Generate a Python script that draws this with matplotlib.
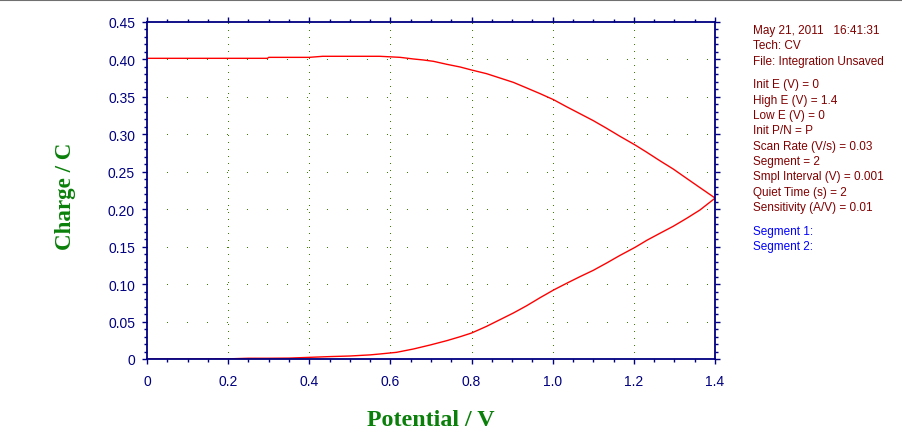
import numpy as np
import matplotlib
matplotlib.use('Agg')
import matplotlib.pyplot as plt
from matplotlib.ticker import MultipleLocator

# segment 1: forward scan 0 -> 1.4 V
fwd_E = [0, 0.1, 0.2, 0.25, 0.3, 0.35, 0.4, 0.45, 0.5, 0.55, 0.574, 0.615, 0.657,
         0.698, 0.739, 0.772, 0.800, 0.837, 0.870, 0.903, 0.936, 0.969, 1.002, 1.034,
         1.067, 1.100, 1.133, 1.166, 1.203, 1.232, 1.264, 1.297, 1.330, 1.363, 1.4]
fwd_Q = [0, 0, 0.0002, 0.001, 0.001, 0.0012, 0.0022, 0.0032, 0.0040, 0.0055, 0.0067,
         0.0089, 0.0134, 0.0187, 0.0245, 0.0298, 0.0347, 0.0436, 0.0525, 0.0614, 0.0712,
         0.0819, 0.0921, 0.1010, 0.1099, 0.1184, 0.1282, 0.1384, 0.1491, 0.1585, 0.1678,
         0.1772, 0.1878, 0.1990, 0.2147]

# segment 2: reverse scan 1.4 -> 0 V
rev_E = [1.4, 1.363, 1.330, 1.297, 1.264, 1.232, 1.203, 1.166, 1.133, 1.100, 1.067,
         1.034, 1.002, 0.969, 0.936, 0.903, 0.870, 0.837, 0.800, 0.772, 0.739, 0.706,
         0.681, 0.657, 0.624, 0.574, 0.5, 0.433, 0.4, 0.3, 0.297, 0.2, 0.1, 0]
rev_Q = [0.2150, 0.2288, 0.2412, 0.2537, 0.2648, 0.2760, 0.2858, 0.2973, 0.3080,
         0.3183, 0.3276, 0.3369, 0.3463, 0.3543, 0.3619, 0.3694, 0.3752, 0.3810,
         0.3859, 0.3899, 0.3935, 0.3975, 0.3993, 0.4006, 0.4028, 0.4042, 0.4042,
         0.4042, 0.4028, 0.4028, 0.4015, 0.4015, 0.4015, 0.4015]

info_lines = ['May 21, 2011   16:41:31', 'Tech: CV', 'File: Integration Unsaved']
param_lines = ['Init E (V) = 0', 'High E (V) = 1.4', 'Low E (V) = 0', 'Init P/N = P',
               'Scan Rate (V/s) = 0.03', 'Segment = 2', 'Smpl Interval (V) = 0.001',
               'Quiet Time (s) = 2', 'Sensitivity (A/V) = 0.01']
seg_lines = ['Segment 1:', 'Segment 2:']

W, H = 902, 431
navy = '#000080'
dotc = '#3f7f00'
green = '#0a800a'

plt.rcParams['font.family'] = ['Liberation Sans', 'DejaVu Sans']
fig = plt.figure(figsize=(W / 100, H / 100), dpi=100)
ax = fig.add_axes([147 / W, (H - 360) / H, 568 / W, 337 / H])

ax.plot(fwd_E, fwd_Q, color='red', lw=1.0)
ax.plot(rev_E, rev_Q, color='red', lw=1.0)

ax.set_xlim(0, 1.4)
ax.set_ylim(0, 0.45)
ax.xaxis.set_minor_locator(MultipleLocator(0.05))
ax.yaxis.set_minor_locator(MultipleLocator(0.01))
ax.set_xticks(np.arange(0, 1.41, 0.2))
ax.set_xticklabels(['0', '0.2', '0.4', '0.6', '0.8', '1.0', '1.2', '1.4'])
ax.set_yticks(np.arange(0, 0.451, 0.05))
ax.set_yticklabels(['0'] + ['%.2f' % v for v in np.arange(0.05, 0.451, 0.05)])

# dotted grid: dots sit on the minor steps of the other axis
for xv in np.arange(0.2, 1.3, 0.2):
    ax.axvline(xv, color=dotc, lw=1.0, linestyle=(0, (0.72, 5.39 - 0.72)),
               antialiased=False, zorder=0)
for yv in np.arange(0.05, 0.41, 0.05):
    ax.axhline(yv, color=dotc, lw=1.0, linestyle=(0, (0.72, 14.6 - 0.72)),
               antialiased=False, zorder=0)

for s in ax.spines.values():
    s.set_color(navy)
    s.set_linewidth(1.3)
ax.tick_params(which='both', direction='out', color=navy, width=1.0,
               top=True, right=True)
ax.tick_params(which='major', length=3.6, labelsize=10, labelcolor=navy, pad=5)
ax.tick_params(which='minor', length=2.0)
ax.tick_params(axis='x', which='major', pad=7)

def px(x, y):
    return x / W, 1 - y / H

fig.text(*px(431, 426), 'Potential / V', family='Liberation Serif', weight='bold',
         size=17.3, color=green, ha='center', va='baseline')
fig.text(*px(65, 196), 'Charge / C', family='Liberation Serif', weight='bold',
         size=16.6, color=green, ha='center', va='center', rotation=90)

info_y = [31, 46, 62]
param_y = [85, 101, 116, 131, 147, 162, 177, 193, 208]
seg_y = [232, 247]
for t, y in zip(info_lines, info_y):
    fig.text(*px(753, y), t, size=8.5, color='#800000', va='center')
for t, y in zip(param_lines, param_y):
    fig.text(*px(753, y), t, size=8.5, color='#800000', va='center')
for t, y in zip(seg_lines, seg_y):
    fig.text(*px(753, y), t, size=8.5, color='#0000ff', va='center')

# window border at top
fig.add_artist(plt.Line2D([0, 1], [1 - 1 / H, 1 - 1 / H], color='#707070', lw=1.5,
                          transform=fig.transFigure))

fig.savefig('out.png', dpi=100)
